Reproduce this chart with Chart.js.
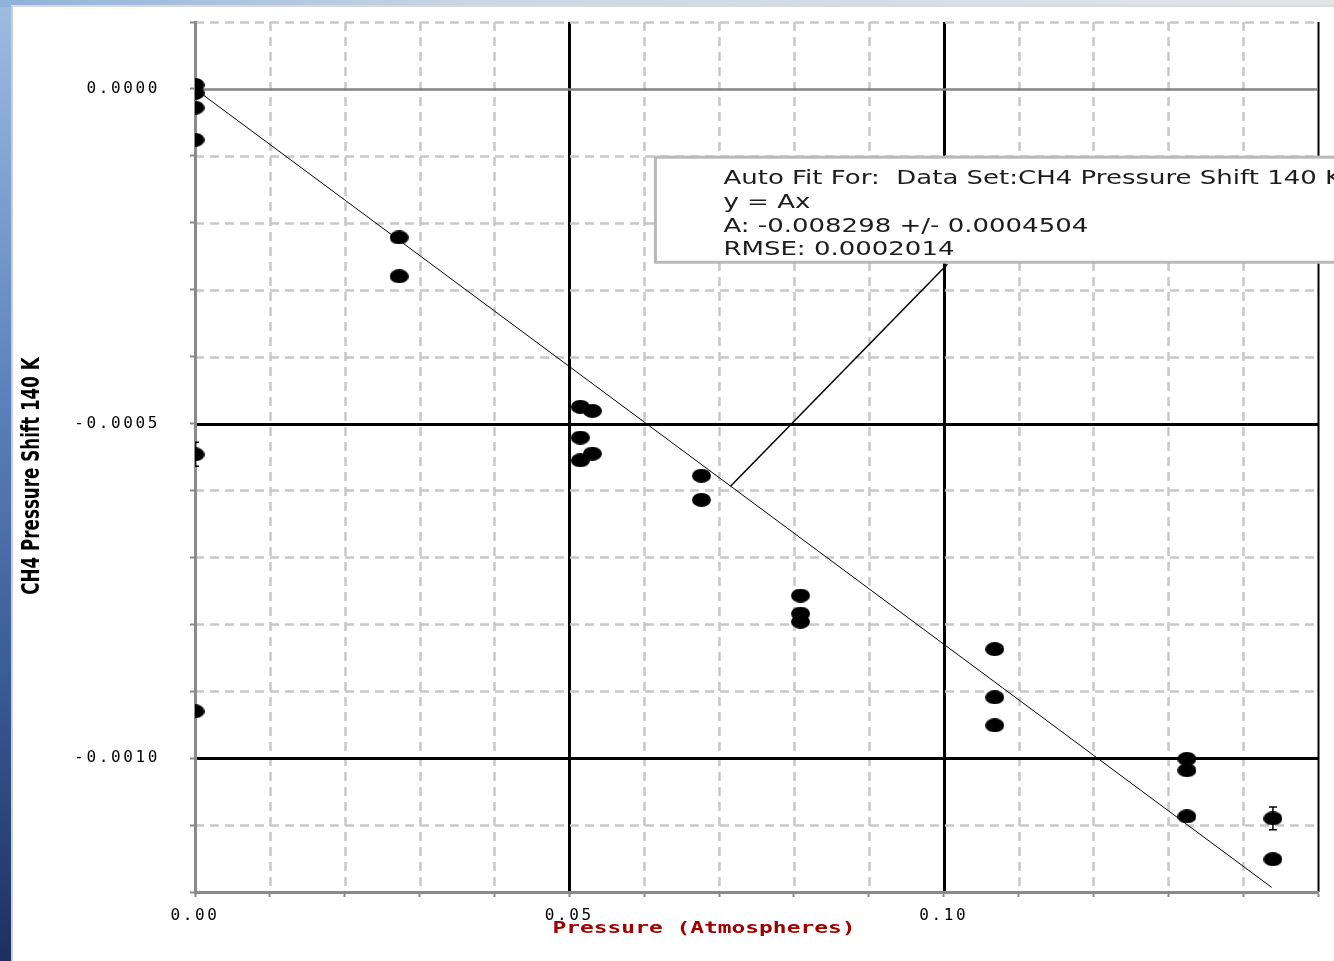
<!DOCTYPE html>
<html>
<head>
<meta charset="utf-8">
<title>CH4 Pressure Shift 140 K</title>
<script src="https://cdn.jsdelivr.net/npm/chart.js@4.4.0/dist/chart.umd.min.js"></script>
<style>
    html, body { margin: 0; padding: 0; width: 1334px; height: 961px; overflow: hidden; }
    body { position: relative; background: linear-gradient(to bottom, #9dbde2 0%, #5c83bd 40%, #3a5c97 70%, #1d3060 100%); }
    .topstrip { position: absolute; left: 0; top: 0; width: 1334px; height: 7px; background: linear-gradient(to right, #8fb2da, #c9d6e4 35%, #e2e6ea 100%); }
    .panel { position: absolute; left: 11px; top: 5px; width: 1323px; height: 956px; box-sizing: border-box; background: #fff; border-left: 2px solid #cdcdcd; border-top: 2px solid #d9d9d9; }
    #pressureChart { position: absolute; left: 13px; top: 7px; }
</style>
</head>
<body>
<div class="topstrip"></div>
<div class="panel"></div>
<canvas id="pressureChart" width="1321" height="954"></canvas>
<script>
const pressure = [0, 0, 0, 0, 0, 0,
    0.02727, 0.02727,
    0.05147, 0.05307, 0.05147, 0.05307, 0.05147,
    0.06765, 0.06765,
    0.08088, 0.08088, 0.08088,
    0.10682, 0.10682, 0.10682,
    0.13249, 0.13249, 0.13249,
    0.14398, 0.14398];
const shift = [0.000006, -0.000006, -0.000028, -0.000076, -0.000546, -0.00093,
    -0.000222, -0.00028,
    -0.000475, -0.000481, -0.000521, -0.000545, -0.000555,
    -0.000578, -0.000614,
    -0.000757, -0.000784, -0.000796,
    -0.000837, -0.000909, -0.000951,
    -0.001001, -0.001018, -0.001087,
    -0.00109, -0.001151];

// Barres d'erreur visibles
const errPressure = [0, 0.14398];
const errShift = [-0.000546, -0.00109];
const errSize = [0.000018, 0.000017];

// Droite d'ajustement y = Ax (extrémités)
const fitX = [0, 0.1438];
const fitY = [0, -0.001193];

// Trait de rappel vers la boîte
const leaderX = [0.0715, 0.1005];
const leaderY = [-0.000594, -0.000262];

// Boîte de résultat
const boxLeft = 0.0615;
const boxTop = -0.000102;
const boxBottom = -0.000259;
const boxLines = [
    'Auto Fit For:  Data Set:CH4 Pressure Shift 140 K',
    'y = Ax',
    'A: -0.008298 +/- 0.0004504',
    'RMSE: 0.0002014'
];

// Graduations
const xTickValues = [0, 0.05, 0.10];
const xTickLabels = ['0.00', '0.05', '0.10'];
const yTickValues = [0, -0.0005, -0.001];
const yTickLabels = ['0.0000', '-0.0005', '-0.0010'];

const xTitle = 'Pressure (Atmospheres)';
const yTitle = 'CH4 Pressure Shift 140 K';

function toPoints(xs, ys) {
    return xs.map((x, i) => ({ x: x, y: ys[i] }));
}

function lookupLabel(values, labels, v) {
    const i = values.findIndex(t => Math.abs(t - v) < 1e-9);
    return i >= 0 ? labels[i] : '';
}

function isMultiple(v, step) {
    const r = v / step;
    return Math.abs(r - Math.round(r)) < 1e-6;
}

// Point noir légèrement ovale
function makeDot(w, h) {
    const c = document.createElement('canvas');
    c.width = w; c.height = h;
    const g = c.getContext('2d');
    g.fillStyle = '#000';
    g.beginPath();
    g.ellipse(w / 2, h / 2, w / 2, h / 2, 0, 0, Math.PI * 2);
    g.fill();
    return c;
}

// Quadrillage : traits pleins aux graduations principales, tirets ailleurs
const gridPlugin = {
    id: 'grid',
    beforeDraw(chart) {
        const ctx = chart.ctx;
        const a = chart.chartArea;
        const xs = chart.scales.x, ys = chart.scales.y;
        ctx.save();
        xs.ticks.forEach(t => {
            const v = t.value;
            if (Math.abs(v) < 1e-9) return;
            const p = Math.round(xs.getPixelForValue(v)) + 0.5;
            ctx.beginPath();
            if (isMultiple(v, 0.05)) {
                ctx.setLineDash([]);
                ctx.strokeStyle = '#000';
                ctx.lineWidth = Math.abs(v - xs.max) < 1e-9 ? 2 : 3;
            } else {
                ctx.setLineDash([9, 6]);
                ctx.strokeStyle = '#c8c8c8';
                ctx.lineWidth = 2.5;
            }
            ctx.moveTo(p, a.top);
            ctx.lineTo(p, a.bottom);
            ctx.stroke();
        });
        ys.ticks.forEach(t => {
            const v = t.value;
            if (Math.abs(v - ys.min) < 1e-9) return;
            const p = Math.round(ys.getPixelForValue(v)) + 0.5;
            ctx.beginPath();
            if (Math.abs(v) < 1e-9) {
                ctx.setLineDash([]);
                ctx.strokeStyle = '#858585';
                ctx.lineWidth = 2.5;
            } else if (isMultiple(v, 0.0005)) {
                ctx.setLineDash([]);
                ctx.strokeStyle = '#000';
                ctx.lineWidth = 3;
            } else {
                ctx.setLineDash([9, 6]);
                ctx.strokeStyle = '#c8c8c8';
                ctx.lineWidth = 2.5;
            }
            ctx.moveTo(a.left, p);
            ctx.lineTo(a.right, p);
            ctx.stroke();
        });
        ctx.restore();
        // espacement des chiffres des graduations
        ctx.letterSpacing = '2.6px';
    }
};

// Barres d'erreur, boîte d'ajustement et titres des axes
const overlayPlugin = {
    id: 'overlay',
    afterDatasetsDraw(chart) {
        const ctx = chart.ctx;
        const a = chart.chartArea;
        const xs = chart.scales.x, ys = chart.scales.y;
        ctx.save();
        ctx.letterSpacing = '0px';

        // barres d'erreur
        ctx.beginPath();
        ctx.rect(a.left, a.top, a.right - a.left, a.bottom - a.top);
        ctx.clip();
        ctx.strokeStyle = '#000';
        ctx.lineWidth = 1.5;
        errPressure.forEach((px, i) => {
            const x = xs.getPixelForValue(px);
            const y1 = ys.getPixelForValue(errShift[i] + errSize[i]);
            const y2 = ys.getPixelForValue(errShift[i] - errSize[i]);
            ctx.beginPath();
            ctx.moveTo(x, y1); ctx.lineTo(x, y2);
            ctx.moveTo(x - 4, y1); ctx.lineTo(x + 4, y1);
            ctx.moveTo(x - 4, y2); ctx.lineTo(x + 4, y2);
            ctx.stroke();
        });
        ctx.restore();

        // boîte
        ctx.save();
        ctx.letterSpacing = '0px';
        const left = xs.getPixelForValue(boxLeft);
        const top = ys.getPixelForValue(boxTop);
        const bottom = ys.getPixelForValue(boxBottom);
        ctx.fillStyle = '#fff';
        ctx.fillRect(left, top, chart.width - left + 20, bottom - top);
        ctx.strokeStyle = '#b9b9b9';
        ctx.lineWidth = 3;
        ctx.strokeRect(left, top, chart.width - left + 20, bottom - top);
        ctx.fillStyle = '#1c1c1c';
        ctx.font = '20px "DejaVu Sans", sans-serif';
        ctx.textAlign = 'left';
        ctx.textBaseline = 'alphabetic';
        const offsets = [27, 51, 75, 98];
        boxLines.forEach((line, i) => {
            ctx.save();
            ctx.translate(left + 68, top + offsets[i]);
            ctx.scale(1.3, 1);
            ctx.fillText(line, 0, 0);
            ctx.restore();
        });
        ctx.restore();
    },
    afterDraw(chart) {
        const ctx = chart.ctx;
        ctx.save();
        ctx.letterSpacing = '0px';
        // titre vertical
        ctx.translate(19, 469);
        ctx.rotate(-Math.PI / 2);
        ctx.scale(1, 1.35);
        ctx.font = 'bold 18.6px "DejaVu Sans Condensed", "Liberation Sans Narrow", "DejaVu Sans", sans-serif';
        ctx.fillStyle = '#000';
        ctx.textAlign = 'center';
        ctx.textBaseline = 'middle';
        ctx.fillText(yTitle, 0, 0);
        ctx.restore();

        // titre horizontal
        ctx.save();
        ctx.letterSpacing = '0px';
        ctx.translate(691, 922);
        ctx.scale(1.43, 1);
        ctx.font = 'bold 16px "DejaVu Sans Mono", monospace';
        ctx.fillStyle = '#a00000';
        ctx.textAlign = 'center';
        ctx.textBaseline = 'middle';
        ctx.fillText(xTitle, 0, 0);
        ctx.restore();
    }
};

const tickFont = { family: '"DejaVu Sans Mono", monospace', size: 16 };

const ctx = document.getElementById('pressureChart').getContext('2d');

const pressureChart = new Chart(ctx, {
    type: 'scatter',
    data: {
        datasets: [
            {
                label: 'CH4 Pressure Shift 140 K',
                data: toPoints(pressure, shift),
                pointStyle: makeDot(19, 14),
                pointRadius: 9,
                showLine: false,
                clip: 0,
                order: 1
            },
            {
                label: 'Fit',
                data: toPoints(fitX, fitY),
                showLine: true,
                borderColor: '#000',
                borderWidth: 1,
                pointRadius: 0,
                order: 2
            },
            {
                label: 'Leader',
                data: toPoints(leaderX, leaderY),
                showLine: true,
                borderColor: '#000',
                borderWidth: 1.5,
                pointRadius: 0,
                order: 3
            }
        ]
    },
    options: {
        responsive: false,
        animation: false,
        devicePixelRatio: 1,
        layout: { padding: { left: 0, top: 15, right: 16, bottom: 0 } },
        plugins: {
            legend: { display: false },
            tooltip: { enabled: false }
        },
        scales: {
            x: {
                type: 'linear',
                min: 0,
                max: 0.15,
                afterFit(scale) {
                    scale.height = 69;
                    scale.paddingLeft = 0;
                    scale.paddingRight = 0;
                },
                border: { display: true, color: '#8a8a8a', width: 3 },
                grid: { drawOnChartArea: false, drawTicks: true, tickLength: 5, tickColor: '#8a8a8a', tickWidth: 2 },
                ticks: {
                    stepSize: 0.01,
                    autoSkip: false,
                    maxRotation: 0,
                    padding: 9,
                    color: '#000',
                    font: tickFont,
                    callback: v => lookupLabel(xTickValues, xTickLabels, v)
                }
            },
            y: {
                type: 'linear',
                min: -0.0012,
                max: 0.0001,
                afterFit(scale) {
                    scale.width = 182;
                    scale.paddingTop = 0;
                    scale.paddingBottom = 0;
                },
                border: { display: true, color: '#8a8a8a', width: 3 },
                grid: { drawOnChartArea: false, drawTicks: true, tickLength: 5, tickColor: '#8a8a8a', tickWidth: 2 },
                ticks: {
                    stepSize: 0.0001,
                    autoSkip: false,
                    padding: 30,
                    color: '#000',
                    font: tickFont,
                    callback: v => lookupLabel(yTickValues, yTickLabels, v)
                }
            }
        }
    },
    plugins: [gridPlugin, overlayPlugin]
});
</script>
</body>
</html>
